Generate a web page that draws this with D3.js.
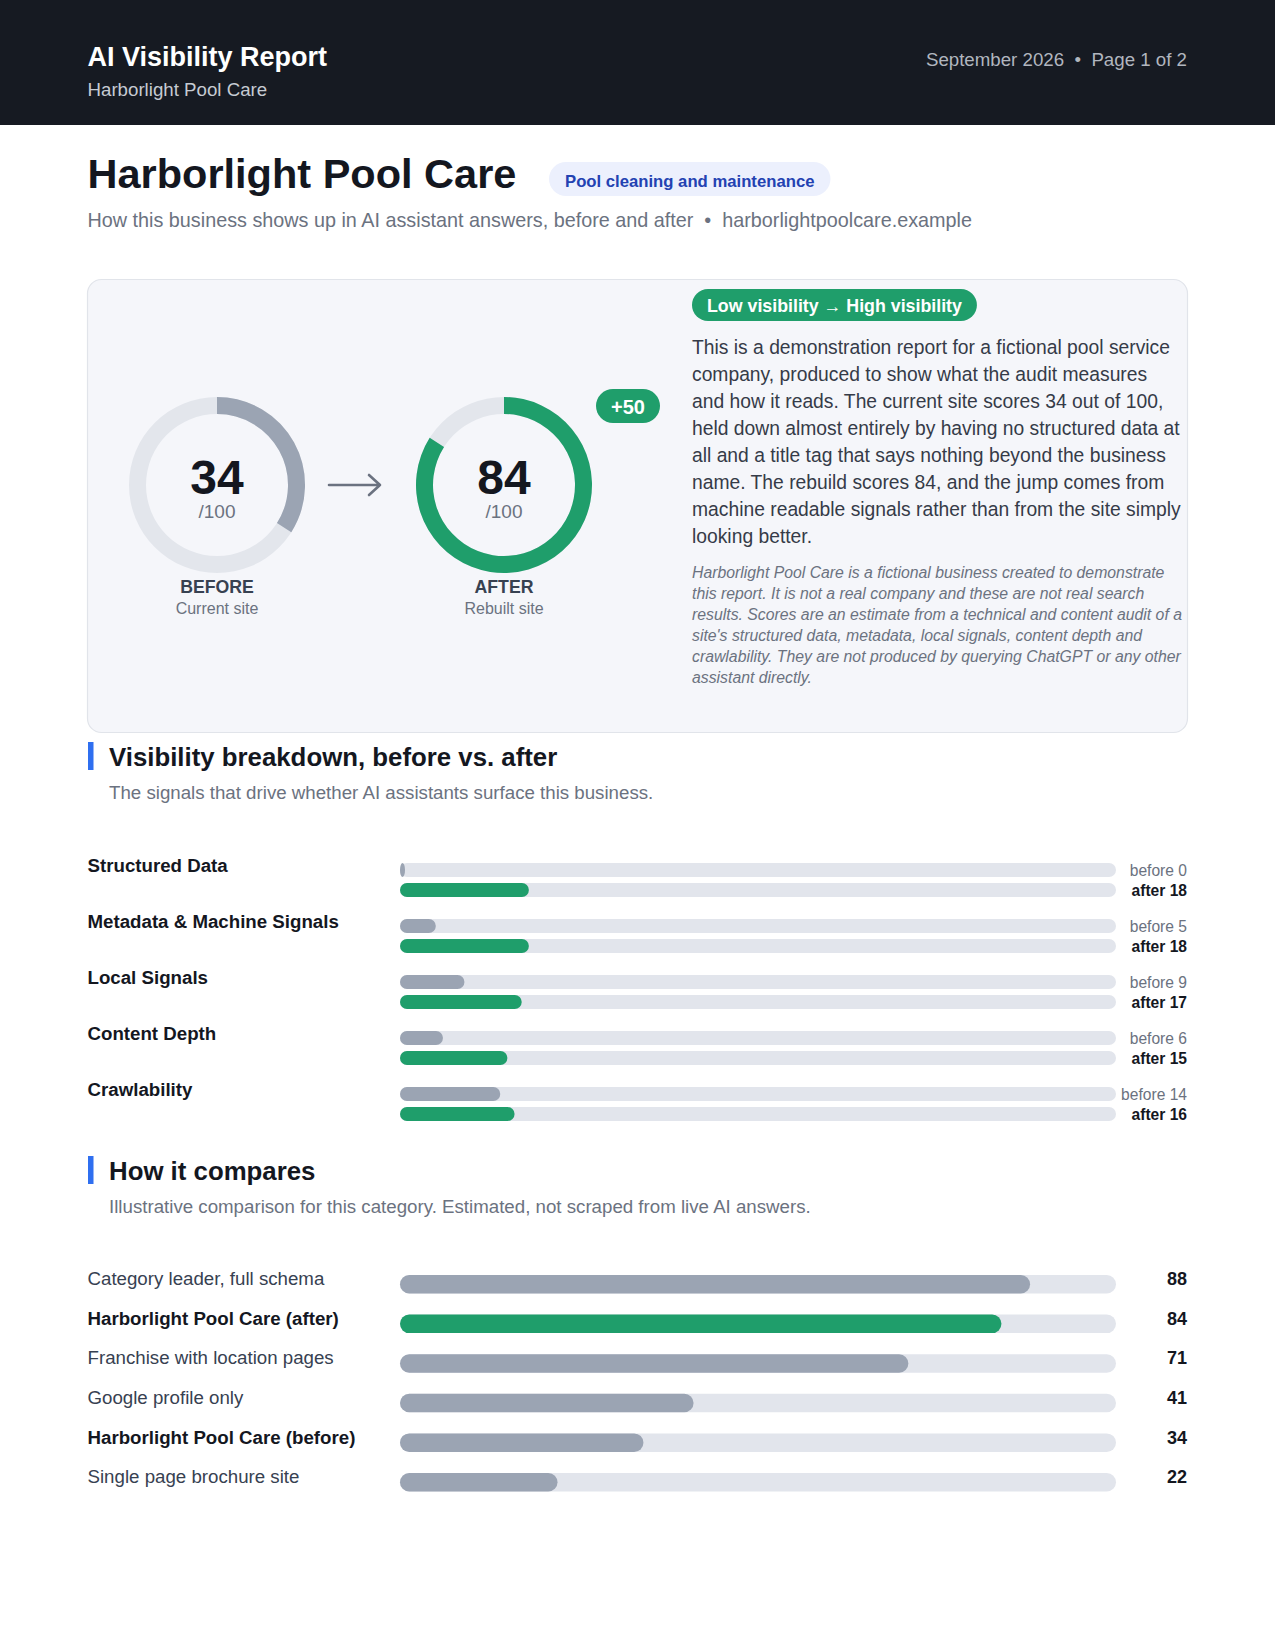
<!DOCTYPE html>
<html>
<head>
<meta charset="utf-8">
<script src="https://cdn.jsdelivr.net/npm/d3@7"></script>
<style>
  html, body { margin: 0; padding: 0; background: #ffffff; }
  svg { display: block; font-family: "Liberation Sans", Arial, Helvetica, sans-serif; }
</style>
</head>
<body>
<svg id="page" width="1275" height="1650"></svg>
<script>
// ---------- data ----------
const reportTitle = "AI Visibility Report";
const businessName = "Harborlight Pool Care";
const reportDate = "September 2026  \u2022  Page 1 of 2";
const categoryTag = "Pool cleaning and maintenance";
const subtitleMain = "How this business shows up in AI assistant answers, before and after";
const subtitleDomain = "harborlightpoolcare.example";

const scoreLabels = ["BEFORE", "AFTER"];
const scoreSubLabels = ["Current site", "Rebuilt site"];
const scoreValues = [34, 84];
const scoreMax = 100;

const statusText = "Low visibility \u2192 High visibility";
const summaryLines = [
  "This is a demonstration report for a fictional pool service",
  "company, produced to show what the audit measures",
  "and how it reads. The current site scores 34 out of 100,",
  "held down almost entirely by having no structured data at",
  "all and a title tag that says nothing beyond the business",
  "name. The rebuild scores 84, and the jump comes from",
  "machine readable signals rather than from the site simply",
  "looking better."
];
const noteLines = [
  "Harborlight Pool Care is a fictional business created to demonstrate",
  "this report. It is not a real company and these are not real search",
  "results. Scores are an estimate from a technical and content audit of a",
  "site's structured data, metadata, local signals, content depth and",
  "crawlability. They are not produced by querying ChatGPT or any other",
  "assistant directly."
];

const breakdownTitle = "Visibility breakdown, before vs. after";
const breakdownSubtitle = "The signals that drive whether AI assistants surface this business.";
const breakdownCategories = ["Structured Data", "Metadata & Machine Signals", "Local Signals", "Content Depth", "Crawlability"];
const breakdownBefore = [0, 5, 9, 6, 14];
const breakdownAfter = [18, 18, 17, 15, 16];

const compareTitle = "How it compares";
const compareSubtitle = "Illustrative comparison for this category. Estimated, not scraped from live AI answers.";
const compareLabels = ["Category leader, full schema", "Harborlight Pool Care (after)", "Franchise with location pages", "Google profile only", "Harborlight Pool Care (before)", "Single page brochure site"];
const compareValues = [88, 84, 71, 41, 34, 22];
const compareIsSelf = [false, true, false, false, true, false];
const compareIsHighlight = [false, true, false, false, false, false];

// ---------- style ----------
const C = {
  headerBg: "#161a22",
  ink: "#14171f",
  body: "#353b48",
  label: "#374151",
  muted: "#6b7280",
  green: "#1f9e6b",
  gray: "#9ba4b3",
  track: "#e2e5ec",
  cardBg: "#f5f6fa",
  cardStroke: "#e1e4ea",
  accent: "#2f6ff0",
  pillBg: "#ecf0fd",
  pillText: "#2342b2"
};

const svg = d3.select("#page");
const L = 87.5, R = 1187;

// pill helper: rect drawn first, text on top, rect width from text length
function pill(x, y, h, padX, text, fontSize, bg, fg, textBaseline) {
  const r = svg.append("rect").attr("x", x).attr("y", y).attr("height", h).attr("rx", h / 2).attr("fill", bg);
  const t = svg.append("text").attr("x", x + padX).attr("y", textBaseline).attr("fill", fg)
    .attr("font-size", fontSize).attr("font-weight", 700).text(text);
  r.attr("width", t.node().getComputedTextLength() + 2 * padX);
}

// ---------- header ----------
svg.append("rect").attr("x", 0).attr("y", 0).attr("width", 1275).attr("height", 125).attr("fill", C.headerBg);
svg.append("text").attr("x", L).attr("y", 66).attr("fill", "#ffffff")
  .attr("font-size", 27).attr("font-weight", 700).text(reportTitle);
svg.append("text").attr("x", L).attr("y", 96).attr("fill", "#c6cbd3")
  .attr("font-size", 18.7).text(businessName);
svg.append("text").attr("x", R).attr("y", 66).attr("fill", "#b1b6bf")
  .attr("font-size", 18.7).attr("text-anchor", "end").style("white-space", "pre").text(reportDate);

// ---------- title ----------
svg.append("text").attr("x", L).attr("y", 188).attr("fill", C.ink)
  .attr("font-size", 41.5).attr("font-weight", 700).text(businessName);
pill(549, 162, 34, 16, categoryTag, 16.7, C.pillBg, C.pillText, 187);

const sub = svg.append("text").attr("x", L).attr("y", 227).attr("fill", C.muted).attr("font-size", 19.8);
sub.append("tspan").text(subtitleMain);
sub.append("tspan").attr("dx", 11).text("\u2022");
sub.append("tspan").attr("dx", 11).text(subtitleDomain);

// ---------- score card ----------
svg.append("rect").attr("x", 87.5).attr("y", 279.5).attr("width", 1100).attr("height", 453)
  .attr("rx", 14).attr("fill", C.cardBg).attr("stroke", C.cardStroke).attr("stroke-width", 1.2);

const donutX = d3.scalePoint().domain(scoreLabels).range([217, 504]);
const angle = d3.scaleLinear().domain([0, scoreMax]).range([0, 2 * Math.PI]);
const arc = d3.arc().innerRadius(71).outerRadius(88);
const cy = 485;

scoreLabels.forEach((lab, i) => {
  const g = svg.append("g").attr("transform", `translate(${donutX(lab)},${cy})`);
  g.append("path").attr("d", arc({ startAngle: 0, endAngle: 2 * Math.PI })).attr("fill", "#e3e6ec");
  g.append("path").attr("d", arc({ startAngle: 0, endAngle: angle(scoreValues[i]) }))
    .attr("fill", i === 1 ? C.green : C.gray);
  g.append("text").attr("y", 9).attr("text-anchor", "middle").attr("fill", C.ink)
    .attr("font-size", 48).attr("font-weight", 700).text(scoreValues[i]);
  g.append("text").attr("y", 33).attr("text-anchor", "middle").attr("fill", C.muted)
    .attr("font-size", 19).text("/" + scoreMax);
  g.append("text").attr("y", 108).attr("text-anchor", "middle").attr("fill", C.label)
    .attr("font-size", 17.7).attr("font-weight", 700).text(lab);
  g.append("text").attr("y", 129).attr("text-anchor", "middle").attr("fill", C.muted)
    .attr("font-size", 16).text(scoreSubLabels[i]);
});

// arrow between donuts
const ax0 = 329, ax1 = 380;
svg.append("path").attr("d", `M${ax0},${cy}L${ax1},${cy}M${ax1 - 11},${cy - 10}L${ax1},${cy}L${ax1 - 11},${cy + 10}`)
  .attr("fill", "none").attr("stroke", C.muted).attr("stroke-width", 2.6).attr("stroke-linecap", "round").attr("stroke-linejoin", "round");

// delta pill
const delta = scoreValues[1] - scoreValues[0];
svg.append("rect").attr("x", 596).attr("y", 389).attr("width", 64).attr("height", 34).attr("rx", 17).attr("fill", C.green);
svg.append("text").attr("x", 628).attr("y", 413.5).attr("text-anchor", "middle").attr("fill", "#fff")
  .attr("font-size", 20).attr("font-weight", 700).text("+" + delta);

// status pill
pill(692, 289, 32, 15, statusText, 17.8, C.green, "#ffffff", 312);

// summary paragraph
svg.append("g").selectAll("text").data(summaryLines).join("text")
  .attr("x", 692).attr("y", (d, i) => 354 + i * 27)
  .attr("fill", C.body).attr("font-size", 19.3).text(d => d);

svg.append("g").selectAll("text").data(noteLines).join("text")
  .attr("x", 692).attr("y", (d, i) => 578 + i * 20.95)
  .attr("fill", C.muted).attr("font-size", 15.8).attr("font-style", "italic").text(d => d);

// ---------- section headers ----------
function sectionHeader(top, title, subtitle) {
  svg.append("rect").attr("x", 88).attr("y", top).attr("width", 5.5).attr("height", 28).attr("fill", C.accent);
  svg.append("text").attr("x", 109).attr("y", top + 24).attr("fill", C.ink)
    .attr("font-size", 25.8).attr("font-weight", 700).text(title);
  svg.append("text").attr("x", 109).attr("y", top + 57).attr("fill", C.muted)
    .attr("font-size", 18.7).text(subtitle);
}

// ---------- breakdown ----------
sectionHeader(742, breakdownTitle, breakdownSubtitle);

const x = d3.scaleLinear().domain([0, 100]).range([400, 1116]);
const yB = d3.scaleBand().domain(breakdownCategories).range([855, 855 + 56 * breakdownCategories.length]);
const barH = 14;

const rowsB = svg.append("g").selectAll("g").data(breakdownCategories).join("g")
  .attr("transform", d => `translate(0,${yB(d)})`);

rowsB.append("text").attr("x", L).attr("y", 17).attr("fill", C.ink)
  .attr("font-size", 18.7).attr("font-weight", 700).text(d => d);

function pillBar(sel, y, h, v, color) {
  sel.append("rect").attr("x", x(0)).attr("y", y).attr("width", x(100) - x(0)).attr("height", h)
    .attr("rx", h / 2).attr("fill", C.track);
  const w = Math.max(x(v) - x(0), 5);
  sel.append("rect").attr("x", x(0)).attr("y", y).attr("width", w).attr("height", h)
    .attr("rx", Math.min(h / 2, w / 2)).attr("ry", h / 2).attr("fill", color);
}

rowsB.each(function (d, i) {
  const g = d3.select(this);
  pillBar(g, 8, barH, breakdownBefore[i], C.gray);
  pillBar(g, 28, barH, breakdownAfter[i], C.green);
  g.append("text").attr("x", R).attr("y", 8 + barH / 2).attr("dy", "0.36em").attr("text-anchor", "end")
    .attr("fill", C.muted).attr("font-size", 15.6).text("before " + breakdownBefore[i]);
  g.append("text").attr("x", R).attr("y", 28 + barH / 2).attr("dy", "0.36em").attr("text-anchor", "end")
    .attr("fill", C.ink).attr("font-size", 15.6).attr("font-weight", 700).text("after " + breakdownAfter[i]);
});

// ---------- comparison ----------
sectionHeader(1156, compareTitle, compareSubtitle);

const yC = d3.scaleBand().domain(compareLabels).range([1275, 1275 + 39.6 * compareLabels.length]);
const cH = 18.5;
const rowsC = svg.append("g").selectAll("g").data(compareLabels).join("g")
  .attr("transform", d => `translate(0,${yC(d)})`);

rowsC.each(function (d, i) {
  const g = d3.select(this);
  g.append("text").attr("x", L).attr("y", cH / 2 + 1)
    .attr("fill", compareIsSelf[i] ? C.ink : C.label)
    .attr("font-weight", compareIsSelf[i] ? 700 : 400)
    .attr("font-size", 18.7).text(d);
  pillBar(g, 0, cH, compareValues[i], compareIsHighlight[i] ? C.green : C.gray);
  g.append("text").attr("x", R).attr("y", cH / 2 + 1).attr("text-anchor", "end")
    .attr("fill", C.ink).attr("font-weight", 700).attr("font-size", 18).text(compareValues[i]);
});
</script>
</body>
</html>
